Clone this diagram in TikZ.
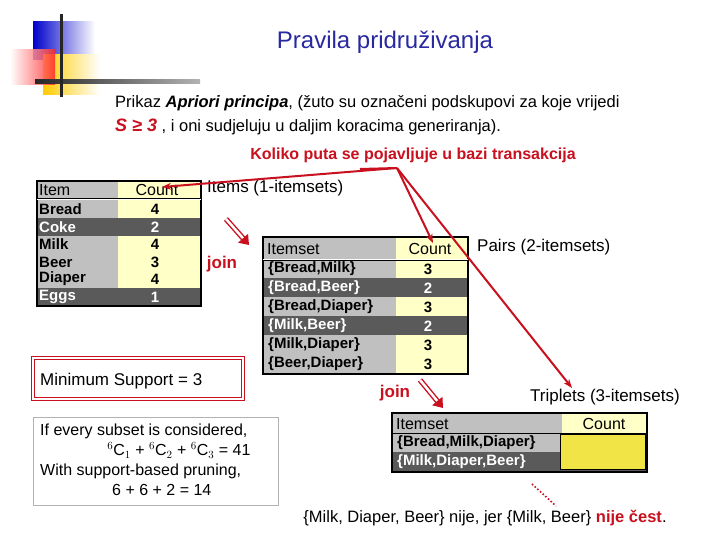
\documentclass[tikz,border=0pt]{standalone}
\usepackage{fontspec}
\setmainfont{Liberation Sans}
\usetikzlibrary{arrows.meta}
\definecolor{tgray}{RGB}{192,192,192}
\definecolor{dgray}{RGB}{90,90,90}
\definecolor{lyel}{RGB}{255,255,200}
\definecolor{dyel}{RGB}{240,228,70}
\definecolor{dred}{RGB}{200,16,30}
\definecolor{tblue}{RGB}{40,40,160}
\tikzset{
 cell/.style={anchor=west,inner sep=2pt,font=\fontsize{15}{15}\selectfont\bfseries},
 ccell/.style={inner sep=1pt,font=\fontsize{15}{15}\selectfont\bfseries},
 hcell/.style={anchor=west,inner sep=2pt,font=\fontsize{16}{16}\selectfont},
 lbl/.style={anchor=west,inner sep=0pt,font=\fontsize{17}{17}\selectfont},
 redarr/.style={dred,line width=2pt,-{Stealth[length=9pt]}},
 joinlbl/.style={dred,font=\fontsize{17}{17}\selectfont\bfseries,inner sep=0pt},
 joinarr/.style={dred,double=white,double distance=2.5pt,line width=1.4pt,-{Triangle[length=9pt,width=13pt]}}
}
\begin{document}
\begin{tikzpicture}[x=1pt,y=-1pt]
\fill[white] (0,0) rectangle (720,540);
\useasboundingbox (0,0) rectangle (720,540);
% decoration
\shade[left color=blue!80!black,right color=white] (33,22) rectangle (95,60);
\shade[left color=yellow!60!orange,right color=white] (43,55) rectangle (100,95);
\shade[right color=red!85,left color=white,opacity=.85] (10,50) rectangle (55,85);
\shade[left color=black!85,right color=black!30] (35,80) rectangle (200,84);
\fill[black!85] (60,14) rectangle (63,97);
% titles
\node[tblue,font=\fontsize{24}{24}\selectfont] (title) at (385,42) {Pravila pridruživanja};
\node[anchor=west,inner sep=0pt,font=\fontsize{16.5}{17}\selectfont] (intro) at (115,103) {Prikaz \textbf{\textit{Apriori principa}}, (žuto su označeni podskupovi za koje vrijedi};
\node[anchor=west,inner sep=0pt,font=\fontsize{16.5}{17}\selectfont] (intro2) at (115,127) {\textcolor{dred}{\fontsize{18}{18}\selectfont\textbf{\textit{S ≥ 3}}} , i oni sudjeluju u daljim koracima generiranja).};
\node[dred,font=\fontsize{16}{17}\selectfont\bfseries,inner sep=0pt] (koliko) at (413,155) {Koliko puta se pojavljuje u bazi transakcija};
\coordinate (hub) at (397,168);
% item table
\fill[tgray] (37,181) rectangle (118,306);
\fill[lyel] (118,181) rectangle (201,306);
\foreach \a/\b in {218/236,288/306} \fill[dgray] (37,\a) rectangle (201,\b);
\draw[line width=1.2pt] (37,181) rectangle (201,306);
\draw[double,line width=.7pt] (37,199.5) -- (201,199.5);
\node[hcell] (ih) at (37,190) {Item};
\node[hcell,anchor=center] (ic) at (157,190) {Count};
\foreach \n/\c/\y/\col in {Bread/4/209/black,Coke/2/227/white,Milk/4/244/black,Beer/3/262/black,Diaper/4/279/black,Eggs/1/297/white}{
 \node[cell,text=\col] at (37,\y) {\n};
 \node[ccell,text=\col] at (155,\y) {\c};
}
\node[lbl] (items) at (207,188) {Items (1-itemsets)};
% pairs table
\fill[tgray] (263,237) rectangle (396,374);
\fill[lyel] (396,237) rectangle (468,374);
\foreach \a/\b in {278/297,316/335} \fill[dgray] (263,\a) rectangle (468,\b);
\draw[line width=1.2pt] (263,237) rectangle (468,374);
\draw[double,line width=.7pt] (263,259.5) -- (468,259.5);
\node[hcell] (ph) at (265,249) {Itemset};
\node[hcell,anchor=center] (pc) at (430,249) {Count};
\foreach \n/\c/\y/\col in {{\{Bread,Milk\}}/3/269/black,{\{Bread,Beer\}}/2/288/white,{\{Bread,Diaper\}}/3/307/black,{\{Milk,Beer\}}/2/326/white,{\{Milk,Diaper\}}/3/345/black,{\{Beer,Diaper\}}/3/364/black}{
 \node[cell,text=\col] at (266,\y) {\n};
 \node[ccell,text=\col] at (428,\y) {\c};
}
\node[lbl] (pairs) at (477,247) {Pairs (2-itemsets)};
% triplets table
\fill[tgray] (392,413) rectangle (562,472);
\fill[lyel] (562,413) rectangle (647,472);
\fill[dgray] (392,452) rectangle (647,472);
\fill[dyel] (560,434) rectangle (645,469);
\draw[line width=1.2pt] (392,413) rectangle (647,472);
\draw[line width=.9pt] (392,433) -- (647,433);
\draw[line width=.9pt] (560,434) rectangle (645,469);
\node[hcell] (th) at (394,424) {Itemset};
\node[hcell,anchor=center] (tc) at (604,424) {Count};
\node[cell] at (395,443) {\{Bread,Milk,Diaper\}};
\node[cell,text=white] at (395,462) {\{Milk,Diaper,Beer\}};
\node[lbl] (trip) at (530,397) {Triplets (3-itemsets)};
% red arrows
\draw[dred,line width=2pt] (360,169) -- (hub);
\draw[redarr] (hub) -- (162,187);
\draw[redarr] (hub) -- (433,243);
\draw[redarr] (hub) -- (572,388);
% joins
\node[joinlbl] (j1) at (222,264) {join};
\draw[joinarr] (226,219) -- (249,245);
\node[joinlbl] (j2) at (395,393) {join};
\draw[joinarr] (420,380) -- (443,408);
% min support
\draw[dred,double,double distance=1.5pt,line width=.9pt] (33,358) rectangle (243,399);
\node[anchor=west,inner sep=0pt,font=\fontsize{17}{17}\selectfont] (ms) at (40,381) {Minimum Support = 3};
% left text box
\draw[black!30,line width=.8pt] (33,417) rectangle (278,505);
\node[align=left,anchor=north west,inner sep=0pt,font=\fontsize{16}{20}\selectfont] (calc) at (40,424) {If every subset is considered,\\
\hspace*{4.2em}$^6$C$_1$ + $^6$C$_2$ + $^6$C$_3$ = 41\\
With support-based pruning,\\
\hspace*{4.5em}6 + 6 + 2 = 14};
% dotted and bottom text
\coordinate (d1) at (532,484);
\coordinate (d2) at (556,506);
\draw[dred,dotted,line width=1.6pt] (d1) -- (d2);
\node[inner sep=0pt,font=\fontsize{16.5}{17}\selectfont] (bottom) at (485,518) {\{Milk, Diaper, Beer\} nije, jer \{Milk, Beer\} \textcolor{dred}{\textbf{nije čest}}.};
\end{tikzpicture}
\end{document}
